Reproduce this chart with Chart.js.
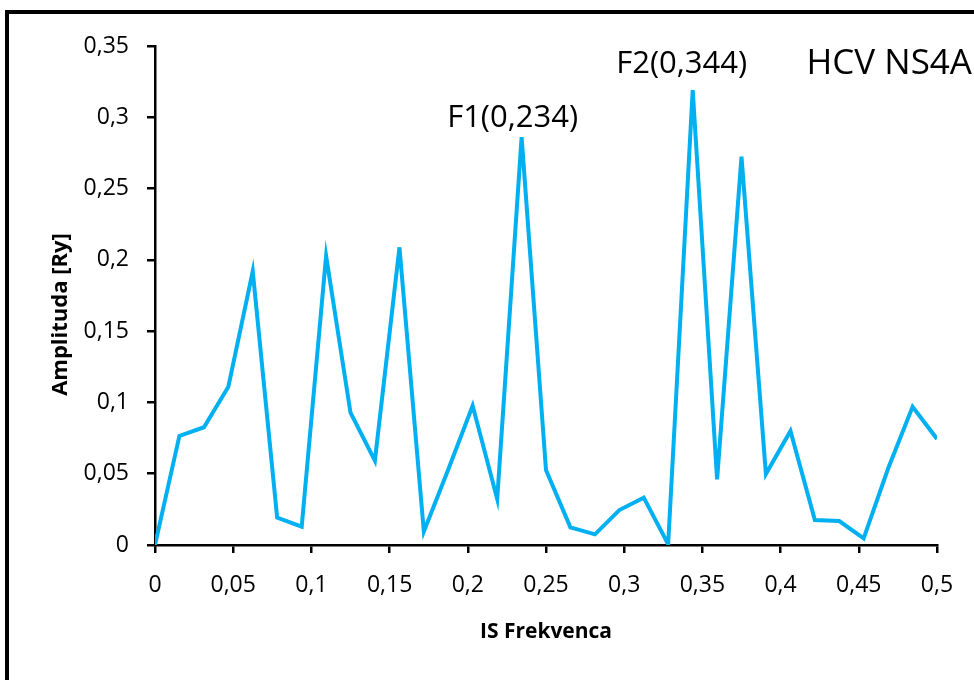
<!DOCTYPE html>
<html>
<head>
<meta charset="utf-8">
<script src="https://cdn.jsdelivr.net/npm/chart.js@4.4.1/dist/chart.umd.min.js"></script>
<style>
  html, body { margin: 0; padding: 0; background: #fff; }
  #wrap { width: 974px; height: 680px; position: relative; }
</style>
</head>
<body>
<div id="wrap"><canvas id="c" width="974" height="680"></canvas></div>
<script>
// ---- data ----
const frequencies = [0, 0.0156, 0.0313, 0.0469, 0.0625, 0.0781, 0.0938, 0.1094, 0.125, 0.1406,
  0.1563, 0.1719, 0.1875, 0.2031, 0.2188, 0.2344, 0.25, 0.2656, 0.2813, 0.2969, 0.3125,
  0.3281, 0.3438, 0.3594, 0.375, 0.3906, 0.4063, 0.4219, 0.4375, 0.4531, 0.4688, 0.4844, 0.5];
const amplitudes = [0, 0.0765, 0.0826, 0.111, 0.192, 0.0192, 0.0129, 0.2027, 0.0928, 0.0592,
  0.2088, 0.0094, 0.053, 0.0977, 0.0323, 0.286, 0.0526, 0.0124, 0.0075, 0.0245, 0.0332,
  0.0005, 0.319, 0.0461, 0.2724, 0.0498, 0.080, 0.0175, 0.0168, 0.0047, 0.0538, 0.097, 0.0744];
const xTickLabels = ['0', '0,05', '0,1', '0,15', '0,2', '0,25', '0,3', '0,35', '0,4', '0,45', '0,5'];
const yTickLabels = ['0', '0,05', '0,1', '0,15', '0,2', '0,25', '0,3', '0,35'];
const peakLabels = [
  { text: 'F1(0,234)', index: 15, dx: -9, dy: -10 },
  { text: 'F2(0,344)', index: 22, dx: -11, dy: -17 }
];
const chartTitle = 'HCV NS4A';
const xTitle = 'IS Frekvenca';
const yTitle = 'Amplituda [Ry]';

const FONT = "'Open Sans', 'Liberation Sans', sans-serif";

const points = frequencies.map((f, i) => ({ x: f, y: amplitudes[i] }));

const framePlugin = {
  id: 'frame',
  beforeDraw(chart) {
    const ctx = chart.ctx;
    ctx.save();
    ctx.fillStyle = '#fff';
    ctx.fillRect(0, 0, chart.width, chart.height);
    ctx.strokeStyle = '#000';
    ctx.lineWidth = 4;
    ctx.beginPath();
    ctx.moveTo(7, chart.height + 10);
    ctx.lineTo(7, 12);
    ctx.lineTo(chart.width + 10, 12);
    ctx.stroke();
    ctx.restore();
  },
  afterDraw(chart) {
    const ctx = chart.ctx;
    const xs = chart.scales.x, ys = chart.scales.y;
    ctx.save();
    ctx.fillStyle = '#000';
    ctx.textBaseline = 'alphabetic';
    ctx.textAlign = 'center';
    ctx.font = '31px ' + FONT;
    peakLabels.forEach(p => {
      const px = xs.getPixelForValue(frequencies[p.index]) + p.dx;
      const py = ys.getPixelForValue(amplitudes[p.index]) + p.dy;
      ctx.fillText(p.text, px, py);
    });
    ctx.textAlign = 'right';
    ctx.font = '35px ' + FONT;
    ctx.fillText(chartTitle, chart.width - 2, 74);
    // y axis title (rotated), slightly below the axis middle as in the reference
    ctx.save();
    ctx.translate(61, (chart.chartArea.top + chart.chartArea.bottom) / 2 + 19);
    ctx.rotate(-Math.PI / 2);
    ctx.textAlign = 'center';
    ctx.textBaseline = 'middle';
    ctx.font = 'bold 22px ' + FONT;
    ctx.fillText(yTitle, 0, 0);
    ctx.restore();
    ctx.restore();
  }
};

new Chart(document.getElementById('c'), {
  type: 'line',
  data: {
    datasets: [{
      data: points,
      borderColor: '#00B0F0',
      borderWidth: 4,
      pointRadius: 0,
      tension: 0,
      fill: false
    }]
  },
  options: {
    responsive: false,
    animation: false,
    events: [],
    layout: { padding: { left: 40, top: 46, right: 37, bottom: 0 } },
    plugins: { legend: { display: false }, tooltip: { enabled: false } },
    scales: {
      x: {
        type: 'linear',
        min: 0, max: 0.5,
        afterFit(s) { s.height = 135; },
        ticks: {
          stepSize: 0.05,
          color: '#000',
          font: { family: FONT, size: 23 },
          padding: 19,
          maxRotation: 0,
          callback: (v, i) => xTickLabels[i]
        },
        grid: { drawOnChartArea: false, drawTicks: true, tickLength: 8, color: '#000', lineWidth: 2.5 },
        border: { display: true, color: '#000', width: 2.5 },
        title: {
          display: true, text: xTitle, color: '#000',
          font: { family: FONT, size: 21, weight: 'bold' },
          padding: { top: 0, bottom: 35 }
        }
      },
      y: {
        type: 'linear',
        min: 0, max: 0.35,
        afterFit(s) { s.width = 115; },
        ticks: {
          stepSize: 0.05,
          color: '#000',
          font: { family: FONT, size: 23 },
          padding: 18,
          callback: (v, i) => yTickLabels[i]
        },
        grid: { drawOnChartArea: false, drawTicks: true, tickLength: 8, color: '#000', lineWidth: 2.5 },
        border: { display: true, color: '#000', width: 2.5 },
        title: { display: false }
      }
    }
  },
  plugins: [framePlugin]
});
</script>
</body>
</html>
